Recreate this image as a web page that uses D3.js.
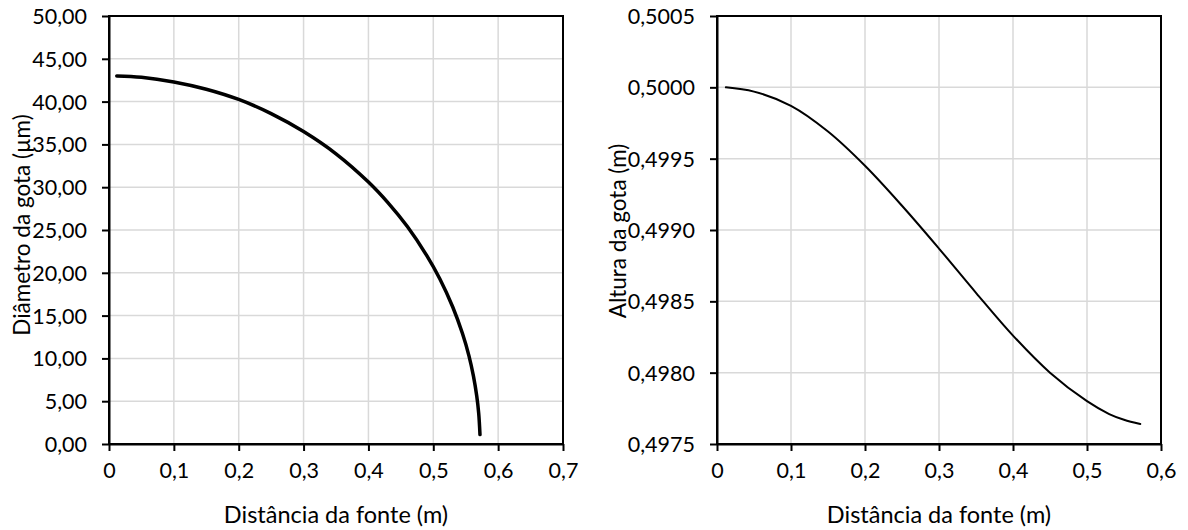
<!DOCTYPE html>
<html>
<head>
<meta charset="utf-8">
<script src="https://cdn.jsdelivr.net/npm/d3@7"></script>
<style>
  body { margin: 0; background: #fff; }
  svg text { font-family: Lato, "Open Sans", sans-serif; fill: #000; }
</style>
</head>
<body>
<script>
// --- data ---
var distDiam = [0.012, 0.05, 0.1, 0.15, 0.2, 0.25, 0.3, 0.35, 0.4, 0.43, 0.46, 0.49, 0.51, 0.53, 0.545, 0.555, 0.562, 0.567, 0.570, 0.572];
var diameter = [43.0, 42.85, 42.3, 41.45, 40.25, 38.6, 36.5, 33.9, 30.6, 28.2, 25.4, 22.0, 19.3, 16.0, 12.9, 10.3, 7.9, 5.6, 3.6, 1.1];

var distHeight = [0.012, 0.05, 0.1, 0.15, 0.2, 0.25, 0.3, 0.35, 0.4, 0.45, 0.5, 0.53, 0.55, 0.572];
var height = [0.50000, 0.49997, 0.49987, 0.49969, 0.49945, 0.49917, 0.49887, 0.49856, 0.49826, 0.49800, 0.49780, 0.49771, 0.49767, 0.49764];

var leftXTicks = [0, 0.1, 0.2, 0.3, 0.4, 0.5, 0.6, 0.7];
var leftYTicks = [0, 5, 10, 15, 20, 25, 30, 35, 40, 45, 50];
var rightXTicks = [0, 0.1, 0.2, 0.3, 0.4, 0.5, 0.6];
var rightYTicks = [0.4975, 0.4980, 0.4985, 0.4990, 0.4995, 0.5000, 0.5005];

var xTitle = 'Distância da fonte (m)';
var leftYTitle = 'Diâmetro da gota (µm)';
var rightYTitle = 'Altura da gota (m)';

// pt-BR style numbers
var locale = d3.formatLocale({ decimal: ',', thousands: '.', grouping: [3], currency: ['', ''] });
var fmtX = function(d) { return d === 0 ? '0' : locale.format('.1f')(d); };

var svg = d3.select('body').append('svg')
  .attr('width', 1188)
  .attr('height', 530);

var drawChart = function(opt) {
  var x = d3.scaleLinear().domain(opt.xDomain).range([opt.left, opt.right]);
  var y = d3.scaleLinear().domain(opt.yDomain).range([opt.bottom, opt.top]);
  var g = svg.append('g');

  // gridlines
  g.append('g').selectAll('line')
    .data(opt.xTicks.slice(1, -1))
    .enter().append('line')
    .attr('x1', function(d) { return x(d); })
    .attr('x2', function(d) { return x(d); })
    .attr('y1', opt.top).attr('y2', opt.bottom)
    .attr('stroke', '#d9d9d9').attr('stroke-width', 1.5);
  g.append('g').selectAll('line')
    .data(opt.yTicks.slice(1, -1))
    .enter().append('line')
    .attr('x1', opt.left).attr('x2', opt.right)
    .attr('y1', function(d) { return y(d); })
    .attr('y2', function(d) { return y(d); })
    .attr('stroke', '#d9d9d9').attr('stroke-width', 1.5);

  // box round the plot area
  g.append('rect')
    .attr('x', opt.left).attr('y', opt.top)
    .attr('width', opt.right - opt.left).attr('height', opt.bottom - opt.top)
    .attr('fill', 'none').attr('stroke', '#000').attr('stroke-width', 2);

  var xAxis = g.append('g')
    .attr('transform', 'translate(0,' + opt.bottom + ')')
    .call(d3.axisBottom(x).tickValues(opt.xTicks).tickFormat(fmtX).tickSize(7).tickSizeOuter(0).tickPadding(12));
  var yAxis = g.append('g')
    .attr('transform', 'translate(' + opt.left + ',0)')
    .call(d3.axisLeft(y).tickValues(opt.yTicks).tickFormat(opt.yFormat).tickSize(7).tickSizeOuter(0).tickPadding(15));

  [xAxis, yAxis].forEach(function(a) {
    a.select('.domain').attr('stroke', '#000').attr('stroke-width', 2);
    a.selectAll('.tick line').attr('stroke', '#000').attr('stroke-width', 2);
    a.selectAll('.tick text').attr('font-size', 21.5).attr('font-family', 'Lato, sans-serif');
  });
  yAxis.selectAll('.tick text').attr('dy', '0.35em');

  var line = d3.line()
    .x(function(d) { return x(d[0]); })
    .y(function(d) { return y(d[1]); })
    .curve(d3.curveCatmullRom.alpha(0.5));

  g.append('path')
    .datum(d3.zip(opt.xs, opt.ys))
    .attr('d', line)
    .attr('fill', 'none')
    .attr('stroke', '#000')
    .attr('stroke-width', opt.lw)
    .attr('stroke-linecap', 'round');

  g.append('text')
    .attr('x', (opt.left + opt.right) / 2)
    .attr('y', 523)
    .attr('text-anchor', 'middle')
    .attr('font-size', 23.5)
    .text(xTitle);

  g.append('text')
    .attr('transform', 'translate(' + opt.titleX + ',' + ((opt.top + opt.bottom) / 2 + opt.titleDy) + ') rotate(-90)')
    .attr('text-anchor', 'middle')
    .attr('font-size', 22.5)
    .text(opt.yTitle);
};

drawChart({
  left: 109, right: 563, top: 16, bottom: 444,
  xDomain: [0, 0.7], yDomain: [0, 50],
  xTicks: leftXTicks, yTicks: leftYTicks,
  yFormat: locale.format('.2f'),
  xs: distDiam, ys: diameter, lw: 3.5,
  yTitle: leftYTitle, titleX: 30, titleDy: -5
});

drawChart({
  left: 717, right: 1161, top: 16, bottom: 444,
  xDomain: [0, 0.6], yDomain: [0.4975, 0.5005],
  xTicks: rightXTicks, yTicks: rightYTicks,
  yFormat: locale.format('.4f'),
  xs: distHeight, ys: height, lw: 2,
  yTitle: rightYTitle, titleX: 626, titleDy: 1
});
</script>
</body>
</html>
